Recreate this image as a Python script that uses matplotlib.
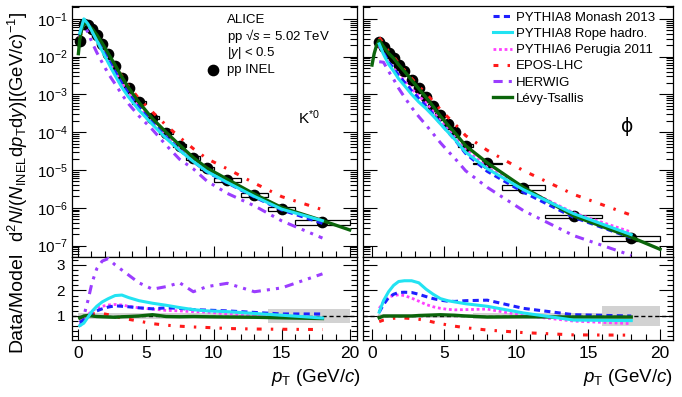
import numpy as np
import matplotlib
matplotlib.use('Agg')
import matplotlib.pyplot as plt
from matplotlib.patches import Rectangle
from matplotlib.lines import Line2D
from matplotlib.ticker import MultipleLocator, NullFormatter, FixedLocator

plt.rcParams['font.family'] = ['Liberation Sans', 'DejaVu Sans']
plt.rcParams['mathtext.fontset'] = 'custom'
plt.rcParams['mathtext.rm'] = 'Liberation Sans'
plt.rcParams['mathtext.it'] = 'Liberation Sans:italic'
plt.rcParams['mathtext.bf'] = 'Liberation Sans:bold'

# ---- K*0 spectrum (pp INEL, 5.02 TeV) ----
kst_edges = [0.0, 0.3, 0.6, 0.9, 1.2, 1.6, 2.0, 2.5, 3.0, 3.5, 4.0, 5.0, 6.0, 7.0,
             8.0, 9.0, 10.0, 12.0, 14.0, 16.0, 20.0]
kst_yield = [0.026, 0.072, 0.070, 0.055, 0.037, 0.022, 0.0115, 0.0057, 0.0028, 0.00145,
             6.2e-4, 2.4e-4, 9.8e-5, 4.4e-5, 2.1e-5, 1.1e-5, 5.5e-6, 2.2e-6, 9.5e-7, 4.2e-7]
kst_sys = [0.12, 0.1, 0.1, 0.09, 0.09, 0.09, 0.09, 0.09, 0.09, 0.09,
           0.09, 0.09, 0.09, 0.1, 0.1, 0.1, 0.11, 0.12, 0.14, 0.16]
kst_unc = [0.13] * 18 + [0.27, 0.27]
# data/model ratios at the K*0 bin centres
kst_r_monash = [0.75, 0.85, 0.97, 1.1, 1.2, 1.28, 1.35, 1.4, 1.38, 1.36,
                1.32, 1.28, 1.32, 1.3, 1.25, 1.23, 1.2, 1.14, 1.08, 1.08]
kst_r_rope = [0.62, 0.72, 0.95, 1.18, 1.38, 1.55, 1.68, 1.8, 1.82, 1.72,
              1.6, 1.5, 1.42, 1.33, 1.25, 1.2, 1.17, 1.1, 1.03, 0.92]
kst_r_perugia = [0.8, 0.9, 1.05, 1.2, 1.3, 1.38, 1.43, 1.45, 1.43, 1.38,
                 1.32, 1.27, 1.22, 1.2, 1.17, 1.15, 1.08, 1.0, 0.95, 0.92]
kst_r_epos = [0.85, 0.95, 1.03, 1.08, 1.1, 1.1, 1.05, 0.98, 0.92, 0.87,
              0.8, 0.7, 0.64, 0.6, 0.57, 0.55, 0.51, 0.49, 0.48, 0.47]
kst_r_herwig = [0.6, 1.0, 1.6, 2.3, 2.85, 3.15, 3.25, 3.0, 2.8, 2.6,
                2.3, 2.05, 2.15, 2.3, 1.95, 2.15, 2.28, 1.95, 2.1, 2.65]
kst_r_levy = [0.92, 1.0, 1.02, 1.0, 0.98, 0.97, 0.96, 0.95, 0.97, 0.98,
              1.0, 1.05, 0.98, 0.97, 0.98, 0.97, 0.96, 0.95, 0.93, 0.9]
kst_levy_pt = [0.05, 0.15, 0.3, 0.45, 0.6, 0.75, 1.05, 1.4, 1.8, 2.25, 2.75, 3.25, 3.75,
               4.5, 5.5, 6.5, 7.5, 8.5, 9.5, 11, 13, 15, 18, 20]
kst_levy = [0.012, 0.028, 0.056, 0.072, 0.076, 0.069, 0.055, 0.038, 0.0227, 0.012, 0.006,
            0.00289, 0.00148, 6.2e-4, 2.29e-4, 1.0e-4, 4.54e-5, 2.14e-5, 1.13e-5, 5.7e-6,
            2.3e-6, 1.02e-6, 4.6e-7, 2.6e-7]

# ---- phi spectrum ----
phi_edges = [0.4, 0.6, 1.0, 1.3, 1.7, 2.0, 2.5, 3.0, 3.5, 4.0, 4.5, 5.0, 5.5, 6.0,
             7.0, 9.0, 12.0, 16.0, 20.0]
phi_yield = [0.025, 0.0185, 0.0123, 0.0091, 0.0061, 0.0041, 0.0024, 0.00145, 8.7e-4,
             5.0e-4, 2.8e-4, 1.65e-4, 1.0e-4, 4.4e-5, 1.5e-5, 3.4e-6, 5.9e-7, 1.6e-7]
phi_sys = [0.08] * 14 + [0.04, 0.15, 0.1, 0.15]
phi_unc = [0.08] * 14 + [0.1, 0.12, 0.13, 0.38]
phi_r_monash = [1.15, 1.45, 1.72, 1.85, 1.92, 1.93, 1.92, 1.85, 1.76, 1.68,
                1.62, 1.58, 1.57, 1.6, 1.62, 1.3, 1.05, 1.0]
phi_r_rope = [1.15, 1.6, 1.95, 2.2, 2.35, 2.38, 2.38, 2.3, 2.05, 1.85,
              1.68, 1.6, 1.55, 1.48, 1.38, 1.12, 0.84, 0.82]
phi_r_perugia = [1.3, 1.55, 1.74, 1.8, 1.83, 1.8, 1.7, 1.58, 1.45, 1.36,
                 1.3, 1.26, 1.24, 1.25, 1.27, 1.02, 0.8, 0.7]
phi_r_epos = [0.78, 0.84, 0.88, 0.91, 0.92, 0.92, 0.9, 0.87, 0.83, 0.76,
              0.7, 0.65, 0.6, 0.54, 0.45, 0.35, 0.26, 0.25]
phi_r_herwig = [3.4, 2.6, 3.0, 3.6, 4.2, 4.8, 5.3, 5.6, 5.6, 5.5,
                5.3, 5.1, 4.9, 4.6, 4.3, 4.0, 3.2, 2.9]
phi_r_levy = [0.93, 1.0, 1.0, 1.0, 1.0, 1.0, 1.0, 1.02, 1.03, 1.04,
              1.05, 1.04, 1.03, 1.0, 0.96, 0.97, 0.96, 0.96]
phi_levy_pt = [0.0, 0.15, 0.3, 0.5, 0.8, 1.15, 1.5, 1.85, 2.25, 2.75, 3.25, 3.75, 4.25,
               4.75, 5.25, 5.75, 6.5, 8, 10.5, 14, 18, 20]
phi_levy = [0.006, 0.012, 0.019, 0.027, 0.0185, 0.0123, 0.0091, 0.0061, 0.0041, 0.0024,
            0.00142, 8.4e-4, 4.8e-4, 2.67e-4, 1.59e-4, 9.7e-5, 4.4e-5, 1.56e-5, 3.5e-6,
            6.1e-7, 1.67e-7, 8e-8]

models = {
    'monash': dict(label='PYTHIA8 Monash 2013', color='#1f1fff', ls=(0, (2.0, 1.4)), lw=2.2),
    'rope': dict(label='PYTHIA8 Rope hadro.', color='#22e3f2', ls='-', lw=2.2),
    'perugia': dict(label='PYTHIA6 Perugia 2011', color='#ff40ff', ls=(0, (1.0, 1.0)), lw=2.0),
    'epos': dict(label='EPOS-LHC', color='#ff1a1a', ls=(0, (1.6, 3.0, 0.8, 3.0)), lw=2.2),
    'herwig': dict(label='HERWIG', color='#9b3dff', ls=(0, (3.0, 2.0, 1.0, 2.0, 1.0, 2.0)), lw=2.2),
    'levy': dict(label='Lévy-Tsallis', color='#0b650b', ls='-', lw=2.4),
}
order = ['epos', 'herwig', 'perugia', 'monash', 'levy', 'rope']

W, H = 682, 397
fig = plt.figure(figsize=(W / 100, H / 100), dpi=100)


def px_axes(x0, y0, x1, y1):
    return fig.add_axes([x0 / W, 1 - y1 / H, (x1 - x0) / W, (y1 - y0) / H])


ax_kt = px_axes(72, 6, 357, 257)
ax_pt = px_axes(363, 6, 673, 257)
ax_kr = px_axes(72, 257, 357, 340)
ax_pr = px_axes(363, 257, 673, 340)


def draw_panel(ax_t, ax_r, edges, yld, sys, unc, ratios, levy_pt, levy, show_herwig_ratio):
    edges = np.array(edges)
    pt = 0.5 * (edges[1:] + edges[:-1])
    yld = np.array(yld)
    # spectrum
    for lo, hi, y, s in zip(edges[:-1], edges[1:], yld, sys):
        ax_t.add_patch(Rectangle((lo, y * (1 - s)), hi - lo, 2 * s * y, fill=False,
                                 ec='k', lw=0.9, zorder=2))
    ax_t.plot(pt, yld, 'o', color='k', ms=7.4, zorder=3)
    for key in order:
        st = models[key]
        if key == 'levy':
            ax_t.plot(levy_pt, levy, color=st['color'], ls=st['ls'], lw=st['lw'], zorder=4)
        else:
            ax_t.plot(pt, yld / np.array(ratios[key]), color=st['color'], ls=st['ls'],
                      lw=st['lw'], zorder=4)
    # ratio
    for lo, hi, u in zip(edges[:-1], edges[1:], unc):
        ax_r.add_patch(Rectangle((lo, 1 - u), hi - lo, 2 * u, color='#d2d2d2', lw=0, zorder=1))
    ax_r.axhline(1.0, color='k', ls=(0, (3, 2)), lw=1.0, zorder=2)
    for key in order:
        if key == 'herwig' and not show_herwig_ratio:
            continue
        st = models[key]
        ax_r.plot(pt, ratios[key], color=st['color'], ls=st['ls'], lw=st['lw'], zorder=3)


draw_panel(ax_kt, ax_kr, kst_edges, kst_yield, kst_sys, kst_unc,
           dict(monash=kst_r_monash, rope=kst_r_rope, perugia=kst_r_perugia,
                epos=kst_r_epos, herwig=kst_r_herwig, levy=kst_r_levy),
           kst_levy_pt, kst_levy, True)
draw_panel(ax_pt, ax_pr, phi_edges, phi_yield, phi_sys, phi_unc,
           dict(monash=phi_r_monash, rope=phi_r_rope, perugia=phi_r_perugia,
                epos=phi_r_epos, herwig=phi_r_herwig, levy=phi_r_levy),
           phi_levy_pt, phi_levy, False)

# axes cosmetics
for ax, xl in [(ax_kt, (-0.42, 20.54)), (ax_kr, (-0.42, 20.54)),
               (ax_pt, (-0.625, 20.9)), (ax_pr, (-0.625, 20.9))]:
    ax.set_xlim(*xl)
    ax.xaxis.set_major_locator(MultipleLocator(5))
    ax.xaxis.set_minor_locator(MultipleLocator(1))
    ax.tick_params(which='both', direction='in', top=False, right=True, width=0.8)
    ax.tick_params(which='major', length=8)
    ax.tick_params(which='minor', length=4)
    for sp in ax.spines.values():
        sp.set_linewidth(0.9)

# only ticks inside the visible range (no hidden off-range labels)
log_major = [10.0 ** e for e in range(-7, 0)]
log_minor = [m * 10.0 ** e for e in range(-8, 0) for m in range(2, 10)
             if 5.0e-8 <= m * 10.0 ** e <= 0.219]
for ax in (ax_kt, ax_pt):
    ax.set_yscale('log')
    ax.set_ylim(5.0e-8, 0.219)
    ax.yaxis.set_major_locator(FixedLocator(log_major))
    ax.yaxis.set_minor_locator(FixedLocator(log_minor))
    ax.yaxis.set_minor_formatter(NullFormatter())
    ax.tick_params(axis='x', labelbottom=False)
    ax.tick_params(axis='y', which='major', length=10)
    ax.tick_params(axis='y', which='minor', length=5)
ax_kt.tick_params(axis='y', labelsize=11, pad=3)
ax_pt.tick_params(axis='y', labelleft=False)

minor_r = [v for v in np.round(np.arange(0.2, 3.3, 0.2), 1) if v not in (1.0, 2.0, 3.0)]
for ax in (ax_kr, ax_pr):
    ax.set_ylim(0.06, 3.31)
    ax.yaxis.set_major_locator(FixedLocator([1, 2, 3]))
    ax.yaxis.set_minor_locator(FixedLocator(minor_r))
    ax.yaxis.set_minor_formatter(NullFormatter())
    ax.tick_params(axis='x', labelsize=12.5, pad=4)
    ax.tick_params(axis='y', which='major', length=10)
ax_kr.tick_params(axis='y', labelsize=11, pad=5)
ax_pr.tick_params(axis='y', labelleft=False)

# labels
fig.text(18 / W, 1 - 127 / H,
         r'd$^{2}$$N$/($N_{\rm INEL}$d$p_{\rm T}$d$y$)[(GeV/$c$)$^{-1}$]',
         rotation=90, ha='center', va='center', fontsize=13.3)
fig.text(17 / W, 1 - 302 / H, 'Data/Model', rotation=90, ha='center', va='center',
         fontsize=14)
for x_right in (361, 673):
    fig.text(x_right / W, 1 - 377 / H, r'$p_{\rm T}$ (GeV/$c$)', ha='right', va='center',
             fontsize=13.5)

# ALICE block
tx = (227 - 72) / 285
for yy, s in [(20, 'ALICE'), (36, r'pp √$s$ = 5.02 TeV'), (53, r'|$y$| < 0.5'),
              (70, 'pp INEL')]:
    ax_kt.text(tx, 1 - (yy - 6) / 251, s, transform=ax_kt.transAxes, ha='left',
               va='center', fontsize=9.5)
ax_kt.plot([(213 - 72) / 285], [1 - (70 - 6) / 251], 'o', color='k', ms=7.4,
           transform=ax_kt.transAxes, clip_on=False)
ax_kt.text((298 - 72) / 285, 1 - (118 - 6) / 251, r'K$^{*0}$', transform=ax_kt.transAxes,
           ha='left', va='center', fontsize=11)
ax_pt.text((627 - 363) / 310, 1 - (127 - 6) / 251, 'ϕ', transform=ax_pt.transAxes,
           ha='center', va='center', fontsize=13.5, family=['DejaVu Sans'])

keys = ['monash', 'rope', 'perugia', 'epos', 'herwig', 'levy']
handles = [Line2D([], [], color=models[k]['color'], ls=models[k]['ls'], lw=models[k]['lw'])
           for k in keys]
labels = [models[k]['label'] for k in keys]
ax_pt.legend(handles, labels, loc='upper left', bbox_to_anchor=((493 - 363) / 310, 1 - 5.5 / 251),
             frameon=False, fontsize=9.5, handlelength=1.45, handletextpad=0.3,
             labelspacing=0.3, borderpad=0, borderaxespad=0)

fig.savefig('out.png', dpi=100)
